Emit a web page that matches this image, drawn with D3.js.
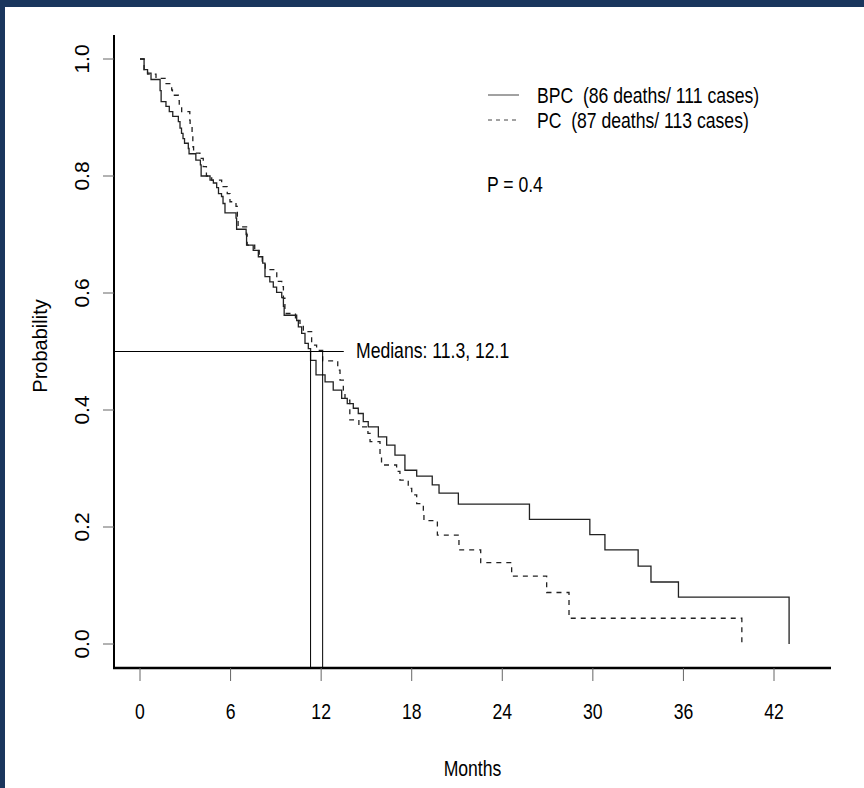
<!DOCTYPE html>
<html>
<head>
<meta charset="utf-8">
<script src="https://cdn.jsdelivr.net/npm/d3@7"></script>
<style>
	body { margin: 0; background: #ffffff; }
	text { font-family: "Liberation Sans", Arial, Helvetica, sans-serif; fill: #000; white-space: pre; }
</style>
</head>
<body>
<svg id="km-plot" width="864" height="788"></svg>
<script>

// Kaplan-Meier steps: [months, survival after that time]
const bpc_steps = [
	[0, 1.0], [0.27, 0.982], [0.5, 0.976], [0.73, 0.965], [1.33, 0.946], [1.4, 0.927],
	[1.72, 0.919], [1.94, 0.91], [2.17, 0.902], [2.54, 0.893], [2.65, 0.882], [2.75, 0.873],
	[2.85, 0.864], [2.95, 0.856], [3.2, 0.847], [3.25, 0.838], [3.7, 0.827], [4.0, 0.819],
	[4.05, 0.80], [4.64, 0.793], [4.86, 0.788], [5.08, 0.78], [5.2, 0.77], [5.4, 0.765],
	[5.5, 0.753], [5.63, 0.737], [6.36, 0.728], [6.4, 0.709], [7.03, 0.7], [7.06, 0.682],
	[7.5, 0.673], [7.84, 0.662], [8.13, 0.651], [8.28, 0.628], [8.6, 0.619], [8.83, 0.61],
	[9.05, 0.601], [9.39, 0.592], [9.5, 0.577], [9.55, 0.562], [10.38, 0.553], [10.49, 0.542],
	[10.71, 0.531], [10.93, 0.514], [11.15, 0.505], [11.3, 0.485], [11.66, 0.46], [12.26, 0.448],
	[12.8, 0.434], [13.36, 0.42], [13.73, 0.411], [14.13, 0.403], [14.46, 0.394], [14.79, 0.38],
	[15.12, 0.371], [15.79, 0.354], [16.34, 0.34], [16.89, 0.323], [17.55, 0.297], [18.33, 0.287],
	[19.36, 0.272], [19.81, 0.258], [21.09, 0.239], [25.8, 0.213], [29.8, 0.187], [30.8, 0.161],
	[33.0, 0.133], [33.85, 0.106], [35.67, 0.08], [43.0, 0]
];

const pc_steps = [
	[0, 1.0], [0.27, 0.982], [0.5, 0.974], [1.06, 0.967], [1.66, 0.958], [2.1, 0.947],
	[2.15, 0.938], [2.54, 0.929], [2.6, 0.921], [2.76, 0.91], [3.3, 0.895], [3.32, 0.884],
	[3.45, 0.867], [3.5, 0.85], [3.55, 0.839], [3.97, 0.83], [4.19, 0.816], [4.4, 0.80],
	[4.75, 0.793], [5.41, 0.782], [5.78, 0.77], [5.96, 0.756], [6.36, 0.748], [6.45, 0.73],
	[6.5, 0.713], [7.06, 0.7], [7.1, 0.682], [7.6, 0.673], [7.9, 0.662], [8.1, 0.651],
	[8.3, 0.64], [9.06, 0.62], [9.39, 0.611], [9.5, 0.591], [9.6, 0.565], [10.3, 0.553],
	[10.6, 0.545], [10.82, 0.534], [11.37, 0.511], [11.7, 0.502], [12.1, 0.484], [13.1, 0.468],
	[13.25, 0.451], [13.47, 0.434], [13.58, 0.417], [13.9, 0.383], [14.5, 0.371], [15.1, 0.36],
	[15.24, 0.346], [15.9, 0.326], [16.0, 0.306], [17.0, 0.295], [17.22, 0.28], [17.77, 0.266],
	[18.0, 0.255], [18.33, 0.24], [18.77, 0.223], [18.81, 0.211], [19.7, 0.186], [21.13, 0.161],
	[22.57, 0.139], [24.62, 0.116], [26.94, 0.088], [28.42, 0.044], [39.87, 0]
];

const x_ticks = [0, 6, 12, 18, 24, 30, 36, 42];
const y_ticks = [0, 0.2, 0.4, 0.6, 0.8, 1.0];
const medians = [11.3, 12.1];
const median_label = "Medians: 11.3, 12.1";
const legend_labels = ["BPC  (86 deaths/ 111 cases)", "PC  (87 deaths/ 113 cases)"];
const p_label = "P = 0.4";

const svg = d3.select("#km-plot");

// navy frame on top and left
svg.append("rect").attr("width", 864).attr("height", 788).attr("fill", "#1a365d");
svg.append("rect").attr("x", 5).attr("y", 7).attr("width", 859).attr("height", 781).attr("fill", "#ffffff");

const x = d3.scaleLinear().domain([0, 42]).range([140, 774]);
const y = d3.scaleLinear().domain([0, 1]).range([644, 59]);

const axis_left = 114, axis_right = 831, axis_bottom = 668, axis_top = 35;

// condensed text helper (the original uses a narrow sans)
function narrowText(g, px, py, str, anchor) {
	return g.append("text")
		.attr("transform", "translate(" + px + "," + py + ") scale(0.8,1)")
		.attr("text-anchor", anchor || "start")
		.attr("xml:space", "preserve")
		.style("font-size", "22px")
		.text(str);
}

// axes lines
svg.append("line")
	.attr("x1", axis_left).attr("x2", axis_left)
	.attr("y1", axis_top).attr("y2", axis_bottom + 1)
	.attr("stroke", "#000").attr("stroke-width", 2);

svg.append("line")
	.attr("x1", axis_left - 1).attr("x2", axis_right)
	.attr("y1", axis_bottom).attr("y2", axis_bottom)
	.attr("stroke", "#000").attr("stroke-width", 2.7);

// ticks
svg.selectAll(".ytick")
	.data(y_ticks)
	.enter()
	.append("line")
	.attr("x1", axis_left - 11).attr("x2", axis_left)
	.attr("y1", d => y(d)).attr("y2", d => y(d))
	.attr("stroke", "#666").attr("stroke-width", 1);

svg.selectAll(".xtick")
	.data(x_ticks)
	.enter()
	.append("line")
	.attr("x1", d => x(d)).attr("x2", d => x(d))
	.attr("y1", axis_bottom).attr("y2", axis_bottom + 13)
	.attr("stroke", "#666").attr("stroke-width", 1);

svg.selectAll(".ylabel")
	.data(y_ticks)
	.enter()
	.append("text")
	.attr("transform", d => "translate(89," + y(d) + ") rotate(-90)")
	.attr("text-anchor", "middle")
	.style("font-size", "21px")
	.text(d => d3.format(".1f")(d));

x_ticks.forEach(t => narrowText(svg, x(t), 719, String(t), "middle"));

// axis titles
narrowText(svg, (axis_left + axis_right) / 2, 776, "Months", "middle");
svg.append("text")
	.attr("transform", "translate(47,346) rotate(-90)")
	.attr("text-anchor", "middle")
	.style("font-size", "20px")
	.text("Probability");

// curves
const step_line = d3.line()
	.x(d => x(d[0]))
	.y(d => y(d[1]))
	.curve(d3.curveStepAfter);

svg.append("path")
	.attr("d", step_line(bpc_steps))
	.attr("fill", "none")
	.attr("stroke", "#222")
	.attr("stroke-width", 1.3);

svg.append("path")
	.attr("d", step_line(pc_steps))
	.attr("fill", "none")
	.attr("stroke", "#222")
	.attr("stroke-width", 1.3)
	.attr("stroke-dasharray", "5,5");

// median lines
svg.append("line")
	.attr("x1", axis_left).attr("x2", x(13.5))
	.attr("y1", y(0.5)).attr("y2", y(0.5))
	.attr("stroke", "#000").attr("stroke-width", 1);

svg.selectAll(".median")
	.data(medians)
	.enter()
	.append("line")
	.attr("x1", d => x(d)).attr("x2", d => x(d))
	.attr("y1", y(0.5)).attr("y2", axis_bottom)
	.attr("stroke", "#000").attr("stroke-width", 1);

narrowText(svg, 356, 358, median_label);

// legend
const legend = svg.append("g");
legend_labels.forEach((lab, i) => {
	legend.append("line")
		.attr("x1", 488).attr("x2", 519)
		.attr("y1", 95 + i * 25).attr("y2", 95 + i * 25)
		.attr("stroke", "#444").attr("stroke-width", 1)
		.attr("stroke-dasharray", i == 1 ? "4,4" : null);
	narrowText(legend, 537, 102.5 + i * 25.5, lab);
});

narrowText(svg, 487, 192, p_label);

</script>
</body>
</html>
